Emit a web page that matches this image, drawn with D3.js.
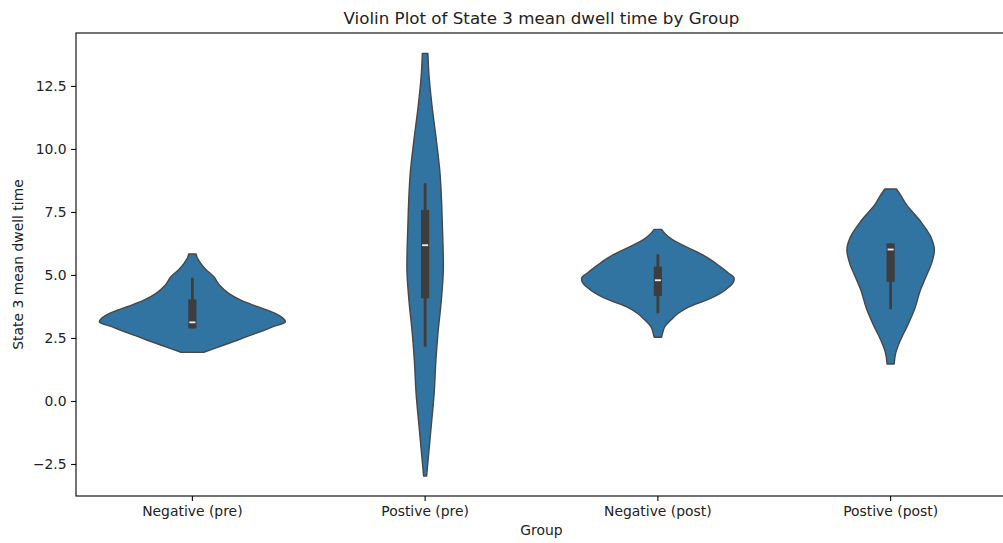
<!DOCTYPE html>
<html>
<head>
<meta charset="utf-8">
<script src="https://cdn.jsdelivr.net/npm/d3@7"></script>
<style>
  body { margin: 0; background: #fff; }
  svg { display: block; font-family: "DejaVu Sans", sans-serif; }
</style>
</head>
<body>
<svg id="chart" width="1003" height="543"></svg>
<script>
// groups on the x axis
const groups = ["Negative (pre)", "Postive (pre)", "Negative (post)", "Postive (post)"];

// violin outlines: [value, relative density]
const densNegPre = [[5.83,.04],[5.7,.05],[5.46,.09],[5.2,.15],[4.93,.23],[4.6,.29],[4.27,.39],[4.0,.52],[3.74,.70],[3.48,.89],[3.3,.97],[3.13,1.0],[2.94,.86],[2.8,.77],[2.6,.62],[2.42,.49],[2.22,.34],[2.05,.21],[1.93,.12]];
const densPosPre = [[13.79,.03],[13.0,.04],[11.68,.075],[10.36,.12],[9.03,.16],[7.98,.176],[7.0,.185],[6.2,.192],[5.33,.196],[4.0,.174],[2.69,.138],[1.63,.116],[0.3,.097],[-1.02,.065],[-2.34,.032],[-2.98,.016]];
const densNegPost = [[6.81,.04],[6.65,.075],[6.39,.16],[6.12,.30],[5.86,.45],[5.6,.57],[5.33,.67],[5.1,.75],[4.87,.82],[4.7,.81],[4.54,.77],[4.27,.67],[4.0,.52],[3.74,.34],[3.48,.22],[3.21,.14],[2.95,.075],[2.68,.05],[2.53,.04]];
const densPosPost = [[8.41,.062],[8.12,.116],[7.84,.16],[7.18,.31],[6.52,.43],[5.99,.47],[5.46,.44],[4.93,.38],[4.4,.32],[3.67,.26],[2.98,.18],[2.45,.11],[1.89,.054],[1.47,.038]];
const densities = [densNegPre, densPosPre, densNegPost, densPosPost];

// inner box stats: [whisker low, q1, median, q3, whisker high]
const boxStats = [
  [2.88, 2.88, 3.12, 4.03, 4.89],
  [2.15, 4.07, 6.18, 7.58, 8.64],
  [3.48, 4.17, 4.79, 5.33, 5.82],
  [3.64, 4.73, 6.01, 6.25, 6.25]
];

const yTicks = [-2.5, 0, 2.5, 5, 7.5, 10, 12.5];

const title = "Violin Plot of State 3 mean dwell time by Group";
const xLabel = "Group";
const yLabel = "State 3 mean dwell time";

const margin = {top: 33, left: 76, bottom: 47};
const width = 931, height = 463;

const svg = d3.select("#chart");
const g = svg.append("g").attr("transform", `translate(${margin.left},${margin.top})`);

const x = d3.scaleBand().domain(groups).range([0, width]).padding(0);
const y = d3.scaleLinear().domain([-3.77, 14.60]).range([height, 0]);
const w = d3.scaleLinear().domain([0, 1]).range([0, x.bandwidth() * 0.4]);

const violinFill = "#3274a1";
const lineCol = "#474747";
const boxCol = "#3d3d3d";

groups.forEach((name, i) => {
  const cx = x(name) + x.bandwidth() / 2;
  const area = d3.area()
    .y(d => y(d[0]))
    .x0(d => cx - w(d[1]))
    .x1(d => cx + w(d[1]))
    .curve(d3.curveMonotoneY);
  g.append("path")
    .attr("d", area(densities[i]))
    .attr("fill", violinFill)
    .attr("stroke", lineCol)
    .attr("stroke-width", 1.4)
    .attr("stroke-linejoin", "round");

  const [lo, q1, med, q3, hi] = boxStats[i];
  g.append("line")
    .attr("x1", cx).attr("x2", cx)
    .attr("y1", y(lo)).attr("y2", y(hi))
    .attr("stroke", boxCol).attr("stroke-width", 2.8);
  g.append("rect")
    .attr("x", cx - 4.1).attr("width", 8.2)
    .attr("y", y(q3)).attr("height", y(q1) - y(q3))
    .attr("fill", boxCol);
  g.append("line")
    .attr("x1", cx - 3).attr("x2", cx + 3)
    .attr("y1", y(med)).attr("y2", y(med))
    .attr("stroke", "#f0f0f0").attr("stroke-width", 1.8);
});

// frame
g.append("rect")
  .attr("x", 0).attr("y", 0).attr("width", width).attr("height", height)
  .attr("fill", "none").attr("stroke", "#000").attr("stroke-width", 1.1);

// axes
const yAxis = g.append("g")
  .call(d3.axisLeft(y).tickValues(yTicks).tickSize(4.9).tickPadding(4.5)
    .tickFormat(d => d3.format(".1f")(d).replace("-", "\u2212")));
const xAxis = g.append("g")
  .attr("transform", `translate(0,${height})`)
  .call(d3.axisBottom(x).tickSize(4.9).tickPadding(5));
[yAxis, xAxis].forEach(a => {
  a.select(".domain").remove();
  a.selectAll("line").attr("stroke", "#000").attr("stroke-width", 1.1);
  a.selectAll("text").attr("fill", "#222").style("font-size", "13.9px")
    .style("font-family", "DejaVu Sans, sans-serif");
});

svg.append("text")
  .attr("x", margin.left + width / 2).attr("y", 24)
  .attr("text-anchor", "middle").attr("fill", "#222")
  .style("font-size", "16.7px").text(title);

svg.append("text")
  .attr("x", margin.left + width / 2).attr("y", 535)
  .attr("text-anchor", "middle").attr("fill", "#222")
  .style("font-size", "13.9px").text(xLabel);

svg.append("text")
  .attr("transform", `translate(23,${margin.top + height / 2}) rotate(-90)`)
  .attr("text-anchor", "middle").attr("fill", "#222")
  .style("font-size", "13.9px").text(yLabel);
</script>
</body>
</html>
